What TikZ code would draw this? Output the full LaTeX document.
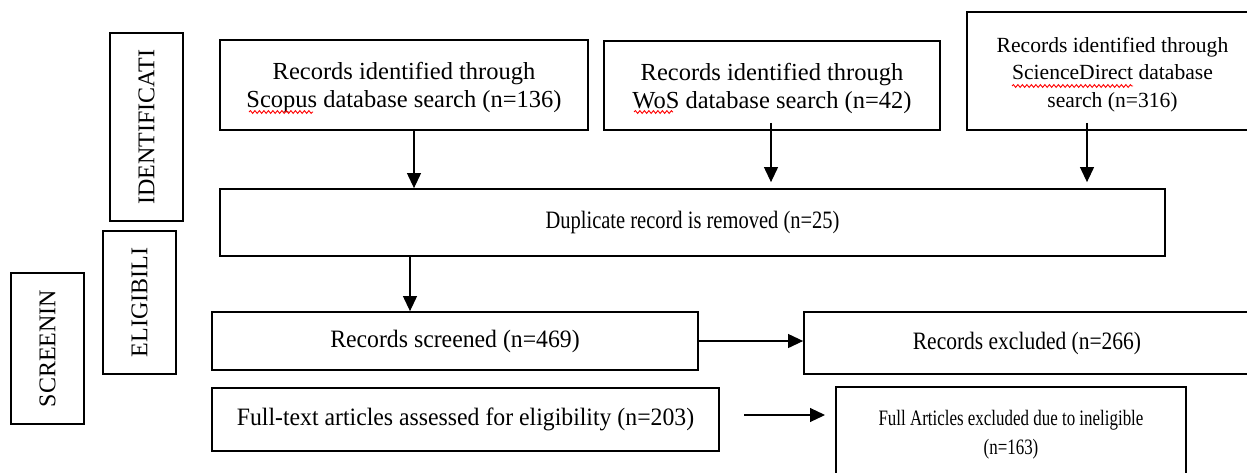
\documentclass[tikz,border=0pt]{standalone}
\usepackage{fontspec}
\setmainfont{Liberation Serif}
\newfontfamily\dupfont[FakeStretch=0.82]{Liberation Serif}
\newfontfamily\scrfont[FakeStretch=0.95]{Liberation Serif}
\newfontfamily\exclfont[FakeStretch=0.86]{Liberation Serif}
\newfontfamily\inelfont[FakeStretch=0.77]{Liberation Serif}
\usetikzlibrary{arrows.meta,calc,decorations.pathmorphing}
\newcommand\padtop[1]{\rule{0pt}{#1pt}}

\tikzset{every picture/.style={line width=0.75pt}}
\tikzset{
  box/.style={draw, line width=1.8pt, align=center, inner sep=0pt},
  tag/.style={box, rotate=90, minimum height=73, font=\fontsize{24}{28}\selectfont},
  srcbox/.style={box, font=\fontsize{24.5}{28}\selectfont},
  arr/.style={line width=1.1pt, -{Triangle[length=15pt,width=14pt]}},
  spell/.style={red, line width=0.9pt, decorate, decoration={snake, amplitude=1.4pt, segment length=4.5pt}},
}

\begin{document}
\begin{tikzpicture}[x=1pt,y=1pt,yscale=-1,xscale=1]
\useasboundingbox (0,0) rectangle (1247,472);

%Stage tags
\node [tag, minimum width=188] (ident) at (146.5,127) {IDENTIFICATI};
\node [tag, minimum width=143] (elig) at (139.5,302.5) {ELIGIBILI};
\node [tag, minimum width=151] (screen) at (47.5,348.5) {SCREENIN};

%Database searches
\node [srcbox, minimum width=368, minimum height=90] (scopus) at (404,85) {\padtop{23}Records identified through\\Scopus database search (n=136)};
\node [srcbox, minimum width=336, minimum height=89] (wos) at (772,85.5) {\padtop{23}Records identified through\\WoS database search (n=42)};
\node [srcbox, minimum width=291, minimum height=118, font=\fontsize{21.6}{27.5}\selectfont] (sd) at (1112.5,71) {\padtop{22}Records identified through\\ScienceDirect database\\search (n=316)};

%spell-check marks
\draw [spell] (249,112) -- (313,112);
\draw [spell] (634,112) -- (673,112);
\draw [spell] (1012,86) -- (1133,86);

%Duplicates
\node [box, minimum width=945, minimum height=67, font=\dupfont\fontsize{25}{28}\selectfont] (dup) at (692.5,222.5) {Duplicate record is removed (n=25)};

%Screening
\node [box, minimum width=486, minimum height=58, font=\scrfont\fontsize{25}{28}\selectfont] (screened) at (455,341) {Records screened (n=469)};
\node [box, minimum width=446, minimum height=62, font=\exclfont\fontsize{25}{28}\selectfont] (excl) at (1027,343) {Records excluded (n=266)};

%Eligibility
\node [box, minimum width=507, minimum height=63, font=\scrfont\fontsize{25}{28}\selectfont] (fulltext) at (465.5,419.5) {Full-text articles assessed for eligibility (n=203)};
\node [box, minimum width=350, minimum height=96, font=\inelfont\fontsize{22}{29}\selectfont] (fullexcl) at (1011,435) {Full Articles excluded due to ineligible\\(n=163)};

%Arrows
\coordinate (s1) at ($(scopus.south)+(10,0)$);
\coordinate (w1) at ($(wos.south)+(-1,-8)$);
\coordinate (d1) at ($(sd.south)+(-25.5,-8)$);
\coordinate (u1) at ($(dup.south)+(-282.5,0)$);
\coordinate (f1) at (744,415);
\coordinate (f2) at (825,415);

\draw [arr] (s1) -- (s1 |- dup.north);
\draw [arr] (w1) -- ($(w1 |- dup.north)+(0,-6)$);
\draw [arr] (d1) -- ($(d1 |- dup.north)+(0,-6)$);
\draw [arr] (u1) -- (u1 |- screened.north);
\draw [arr] (screened.east) -- (screened.east -| excl.west);
\draw [arr] (f1) -- (f2);

\end{tikzpicture}
\end{document}
